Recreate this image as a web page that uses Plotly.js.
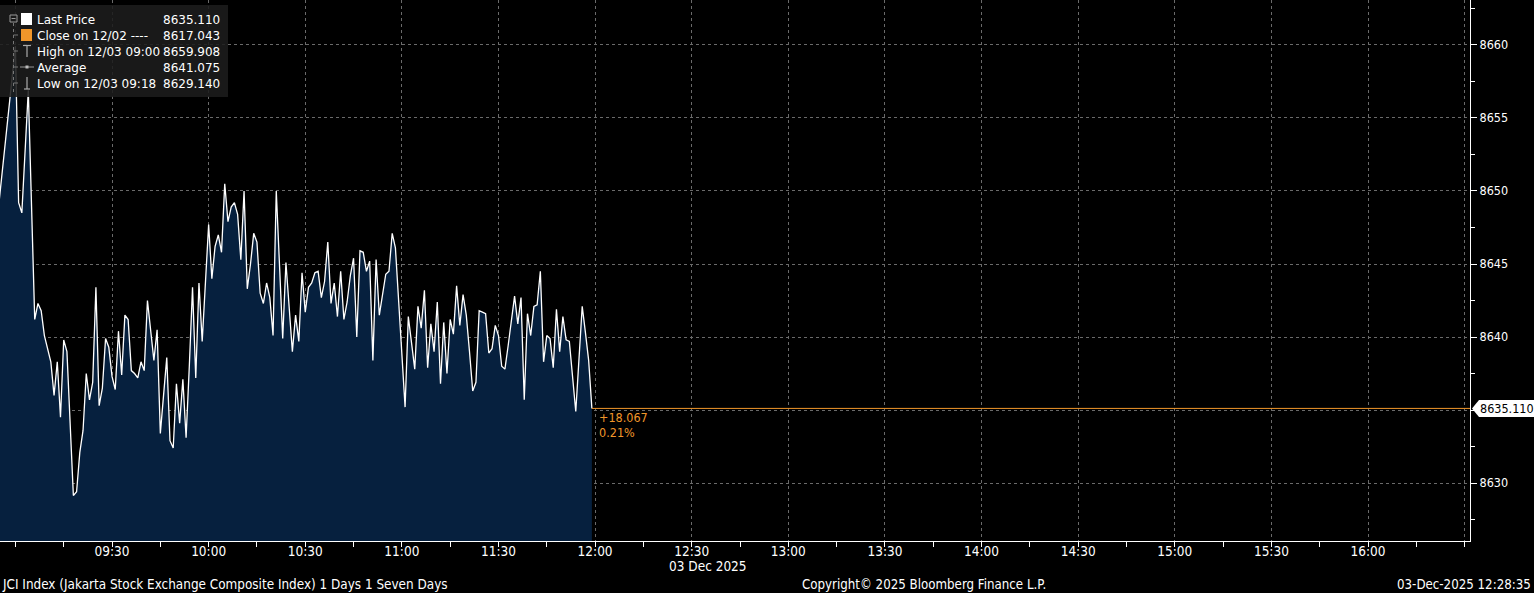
<!DOCTYPE html>
<html>
<head>
<meta charset="utf-8">
<script src="https://cdn.plot.ly/plotly-3.0.1.min.js"></script>
<style>
  html, body { margin: 0; padding: 0; background: #000; }
  #chart { width: 1534px; height: 593px; }
</style>
</head>
<body>
<div id="chart"></div>
<script>
// ---- Data ----
const DAY = "2025-12-03";
const TIMES = [
  "08:55","09:00","09:01","09:02","09:04","09:06","09:07","09:08","09:09","09:11",
  "09:12","09:13","09:14","09:15","09:16","09:18","09:19","09:20","09:21","09:22",
  "09:23","09:24","09:25","09:26","09:27","09:28","09:29","09:30","09:31","09:32",
  "09:33","09:34","09:35","09:36","09:37","09:38","09:39","09:40","09:41","09:42",
  "09:43","09:44","09:45","09:46","09:47","09:48","09:49","09:50","09:51","09:52",
  "09:53","09:54","09:55","09:56","09:57","09:58","09:59","10:00","10:01","10:02",
  "10:03","10:04","10:05","10:06","10:07","10:08","10:09","10:10","10:11","10:12",
  "10:13","10:14","10:15","10:16","10:17","10:18","10:19","10:20","10:21","10:22",
  "10:23","10:24","10:25","10:26","10:27","10:28","10:29","10:30","10:31","10:32",
  "10:33","10:34","10:35","10:36","10:37","10:38","10:39","10:40","10:41","10:42",
  "10:43","10:44","10:45","10:46","10:47","10:48","10:49","10:50","10:51","10:52",
  "10:53","10:54","10:55","10:56","10:57","10:58","10:59","11:00","11:01","11:02",
  "11:03","11:04","11:05","11:06","11:07","11:08","11:09","11:10","11:11","11:12",
  "11:13","11:14","11:15","11:16","11:17","11:18","11:19","11:20","11:21","11:22",
  "11:23","11:24","11:25","11:26","11:27","11:28","11:29","11:30","11:31","11:32",
  "11:33","11:34","11:35","11:36","11:37","11:38","11:39","11:40","11:41","11:42",
  "11:43","11:44","11:45","11:46","11:47","11:48","11:49","11:50","11:51","11:52",
  "11:53","11:54","11:55","11:56","11:57","11:58","11:59"
];
const PRICES = [
  8649.4,8659.908,8649.2,8648.5,8656.9,8641.2,8642.3,8641.8,8640.1,8638.3,
  8636.0,8638.3,8634.5,8639.8,8639.0,8629.14,8629.4,8632.1,8633.6,8637.5,
  8635.7,8636.9,8643.4,8635.3,8636.5,8639.9,8639.3,8637.3,8636.4,8640.4,
  8637.4,8641.5,8641.2,8637.7,8637.5,8637.2,8638.3,8637.7,8642.5,8640.5,
  8638.4,8640.5,8633.4,8636.0,8638.6,8632.9,8632.4,8636.8,8634.1,8637.1,
  8633.1,8638.0,8643.4,8637.2,8643.7,8639.7,8643.7,8647.7,8644.0,8646.2,
  8647.0,8645.8,8650.5,8647.9,8648.9,8649.2,8648.4,8645.3,8650.0,8643.3,
  8645.0,8647.1,8646.5,8643.0,8642.3,8643.7,8642.7,8640.1,8650.0,8645.0,
  8639.9,8645.1,8642.0,8639.0,8641.5,8639.7,8644.4,8641.7,8643.4,8643.7,
  8644.4,8644.5,8642.7,8643.8,8646.5,8642.3,8643.7,8641.4,8644.5,8641.2,
  8642.4,8644.2,8645.4,8640.0,8645.9,8645.8,8644.5,8645.2,8638.4,8645.3,
  8641.5,8642.9,8644.3,8644.5,8647.1,8646.1,8642.3,8638.7,8635.2,8641.4,
  8639.6,8637.8,8642.1,8640.6,8643.2,8637.9,8640.9,8639.0,8642.4,8636.8,
  8641.0,8637.5,8641.2,8640.2,8643.5,8640.8,8642.9,8641.5,8639.0,8636.3,
  8636.9,8641.8,8641.7,8641.6,8638.9,8639.2,8640.8,8640.1,8638.0,8637.8,
  8639.4,8641.0,8642.8,8640.9,8642.7,8635.7,8641.6,8640.1,8642.1,8642.2,
  8644.5,8638.3,8640.1,8639.9,8637.9,8641.9,8639.0,8641.4,8639.8,8639.7,
  8637.3,8634.9,8638.5,8642.1,8640.3,8638.4,8635.11
];
const LAST_PRICE = 8635.110;
const PREV_CLOSE = 8617.043;
const HIGH = 8659.908, HIGH_LABEL = "High on 12/03 09:00";
const AVERAGE = 8641.075;
const LOW = 8629.140, LOW_LABEL = "Low on 12/03 09:18";
const X_TICKS = ["09:00","09:30","10:00","10:30","11:00","11:30","12:00","12:30",
                 "13:00","13:30","14:00","14:30","15:00","15:30","16:00","16:30"];
const X_TICK_TEXT = ["","09:30","10:00","10:30","11:00","11:30","12:00","12:30",
                     "13:00","13:30","14:00","14:30","15:00","15:30","16:00",""];
const Y_TICKS = [8630, 8635, 8640, 8645, 8650, 8655, 8660];
const Y_TICK_TEXT = ["8630", "", "8640", "8645", "8650", "8655", "8660"];
const X_START = "08:55:13", X_END = "16:31:40";
const Y_RANGE = [8626.03, 8663.08];

// ---- Build ----
const ts = t => DAY + " " + t;
const xs = TIMES.map(ts);
const lastT = xs[xs.length - 1];
const ORANGE = "#f0962a";
const GRID = "#6a6a6a";
const FONT_UI = "'DejaVu Sans', sans-serif";
const FONT_AXIS = "'DejaVu Sans Condensed', 'DejaVu Sans', sans-serif";
const FONT_NARROW = "'Liberation Sans Narrow', 'DejaVu Sans Condensed', 'Liberation Sans', sans-serif";

const fmt3 = v => v.toFixed(3);
const chg = LAST_PRICE - PREV_CLOSE;
const pct = chg / PREV_CLOSE * 100;

const traces = [
  {
    x: xs, y: PRICES, type: "scatter", mode: "lines",
    fill: "tozeroy", fillcolor: "#06203e",
    line: { color: "#ffffff", width: 1.3 },
    hoverinfo: "skip"
  },
  {
    x: [lastT, ts(X_END)], y: [LAST_PRICE, LAST_PRICE], type: "scatter", mode: "lines",
    line: { color: ORANGE, width: 1 }, hoverinfo: "skip"
  }
];

// pixel-anchored helpers (relative to plot-area top-left)
function pxRect(x0, y0, x1, y1, fill, lineColor) {
  return { type: "rect", xref: "paper", yref: "paper", xsizemode: "pixel", ysizemode: "pixel",
    xanchor: 0, yanchor: 1, x0: x0, x1: x1, y0: -y0, y1: -y1,
    fillcolor: fill, line: { width: lineColor ? 1 : 0, color: lineColor || "rgba(0,0,0,0)" }, layer: "above" };
}
function pxLine(x0, y0, x1, y1, color, w, dash) {
  return { type: "line", xref: "paper", yref: "paper", xsizemode: "pixel", ysizemode: "pixel",
    xanchor: 0, yanchor: 1, x0: x0, x1: x1, y0: -y0, y1: -y1,
    line: { color: color, width: w || 1, dash: dash || "solid" }, layer: "above" };
}
function pxText(x, y, text, anchor, color, size, family) {
  return { xref: "paper", yref: "paper", x: 0, y: 1, xshift: x, yshift: -y,
    xanchor: anchor, yanchor: "middle", text: text, showarrow: false,
    font: { color: color || "#fff", size: size || 12, family: family || FONT_UI } };
}

const legendRows = [
  ["Last Price", fmt3(LAST_PRICE)],
  ["Close on 12/02 ----", fmt3(PREV_CLOSE)],
  [HIGH_LABEL, fmt3(HIGH)],
  ["Average", fmt3(AVERAGE)],
  [LOW_LABEL, fmt3(LOW)]
];
const rowY = [19, 35, 51, 67, 83];

const shapes = [
  pxRect(0, 5, 228, 97, "rgba(28,28,28,0.88)"),
  // tree
  pxRect(10, 15, 17, 22, "rgba(0,0,0,0)", "#9a9a9a"),
  pxLine(11.5, 18.5, 15.5, 18.5, "#9a9a9a", 1),
  pxLine(13.5, 23, 13.5, 92, "#777", 1, "dot"),
  pxLine(13.5, 35, 18, 35, "#777", 1),
  pxLine(13.5, 51, 18, 51, "#777", 1),
  pxLine(13.5, 67, 18, 67, "#777", 1),
  pxLine(13.5, 83, 18, 83, "#777", 1),
  // icons
  pxRect(21, 13, 32, 25, "#ffffff"),
  pxRect(21, 29, 32, 41, ORANGE),
  pxLine(23, 45.5, 31, 45.5, "#aaa", 1.2),
  pxLine(27, 45.5, 27, 57, "#aaa", 1.2),
  pxLine(20, 67, 34, 67, "#999", 1),
  pxRect(25.5, 65.5, 28.5, 68.5, "#bbb"),
  pxLine(27, 77, 27, 89, "#aaa", 1.2),
  pxLine(24, 89, 30, 89, "#aaa", 1.2),
  // right-axis price tag
  { type: "path", xref: "paper", yref: "y", xsizemode: "pixel", ysizemode: "pixel",
    xanchor: 1, yanchor: LAST_PRICE,
    path: "M 2 0 L 9 8.5 L 64 8.5 L 64 -8.5 L 9 -8.5 Z",
    fillcolor: "#ffffff", line: { width: 0 }, layer: "above" }
];

const annotations = [];
legendRows.forEach((r, i) => {
  annotations.push(pxText(35, rowY[i] + 1, r[0], "left"));
  annotations.push(pxText(222, rowY[i] + 1, r[1], "right"));
});
annotations.push(
  { xref: "paper", yref: "y", x: 1, y: LAST_PRICE, xanchor: "left", yanchor: "middle",
    xshift: 8, text: fmt3(LAST_PRICE), showarrow: false,
    font: { color: "#000", size: 12.5, family: FONT_AXIS } },
  { xref: "x", yref: "y", x: lastT, y: LAST_PRICE, xanchor: "left", yanchor: "middle",
    xshift: 5, yshift: -9, text: (chg >= 0 ? "+" : "") + chg.toFixed(3), showarrow: false,
    font: { color: ORANGE, size: 12.5, family: FONT_AXIS } },
  { xref: "x", yref: "y", x: lastT, y: LAST_PRICE, xanchor: "left", yanchor: "middle",
    xshift: 5, yshift: -24, text: pct.toFixed(2) + "%", showarrow: false,
    font: { color: ORANGE, size: 12.5, family: FONT_AXIS } },
  { xref: "x", yref: "paper", x: ts("12:30"), y: 0, xanchor: "left", yanchor: "middle",
    xshift: -25, yshift: -25, text: "03 Dec 2025", showarrow: false,
    font: { color: "#fff", size: 13.5, family: FONT_NARROW } },
  { xref: "paper", yref: "paper", x: 0, y: 0, xanchor: "left", yanchor: "middle",
    xshift: 0, yshift: -43,
    text: "JCI Index (Jakarta Stock Exchange Composite Index) 1 Days 1 Seven Days",
    showarrow: false, font: { color: "#fff", size: 13.4, family: FONT_NARROW } },
  { xref: "paper", yref: "paper", x: 0, y: 0, xanchor: "center", yanchor: "middle",
    xshift: 924, yshift: -43, text: "Copyright© 2025 Bloomberg Finance L.P.",
    showarrow: false, font: { color: "#fff", size: 13.2, family: FONT_NARROW } },
  { xref: "paper", yref: "paper", x: 1, y: 0, xanchor: "right", yanchor: "middle",
    xshift: 63, yshift: -43, text: "03-Dec-2025 12:28:35",
    showarrow: false, font: { color: "#fff", size: 13.2, family: FONT_NARROW } }
);

const layout = {
  width: 1534, height: 593,
  paper_bgcolor: "#000", plot_bgcolor: "#000",
  margin: { l: 0, r: 64, t: 0, b: 52, pad: 0 },
  showlegend: false,
  xaxis: {
    type: "date", range: [ts(X_START), ts(X_END)],
    tickmode: "array", tickvals: X_TICKS.map(ts), ticktext: X_TICK_TEXT,
    showgrid: true, gridcolor: GRID, griddash: "3px,3px", gridwidth: 1,
    showline: true, linecolor: "#ffffff", linewidth: 1,
    ticks: "outside", ticklen: 5, tickcolor: "#ffffff",
    ticklabelstandoff: -7,
    minor: { tickmode: "linear", tick0: ts("09:00"), dtick: 900000, ticks: "outside",
             ticklen: 5, tickcolor: "#ffffff", showgrid: false },
    tickfont: { color: "#fff", size: 13.5, family: FONT_NARROW },
    zeroline: false, fixedrange: true
  },
  yaxis: {
    side: "right", range: Y_RANGE,
    tickmode: "array", tickvals: Y_TICKS, ticktext: Y_TICK_TEXT,
    showgrid: true, gridcolor: GRID, griddash: "3px,3px", gridwidth: 1,
    showline: true, linecolor: "#ffffff", linewidth: 1,
    ticks: "outside", ticklen: 6, tickcolor: "#ffffff",
    minor: { tickmode: "linear", tick0: 8630, dtick: 2.5, ticks: "outside",
             ticklen: 4, tickcolor: "#ffffff", showgrid: false },
    tickfont: { color: "#fff", size: 12.5, family: FONT_AXIS },
    zeroline: false, fixedrange: true
  },
  shapes: shapes,
  annotations: annotations
};

Plotly.newPlot("chart", traces, layout, { displayModeBar: false, staticPlot: true });
</script>
</body>
</html>
